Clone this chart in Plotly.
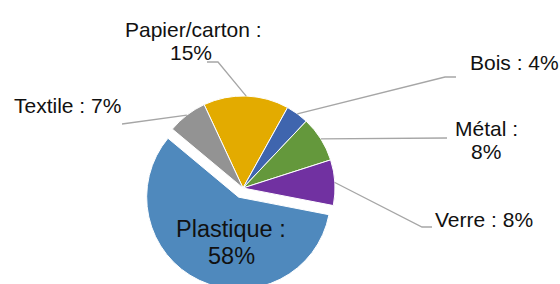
import math
import plotly.graph_objects as go

# ---- data ----
categories = ["Papier/carton", "Bois", "Métal", "Verre", "Plastique", "Textile"]
values = [15, 4, 8, 8, 58, 7]
colors = ["#E3AB00", "#3F65AE", "#64983C", "#7131A1", "#4F89BD", "#939393"]
pulls = [0, 0, 0, 0, 0.11, 0]
two_line = {"Papier/carton": True, "Bois": False, "Métal": True,
            "Verre": False, "Plastique": True, "Textile": False}

# ---- layout geometry (pixels) ----
W, H = 560, 300          # drawn a bit taller; the window shows the top 284 px
cx, cy = 243, 188
r = 92
max_pull = max(pulls)
half = r * (1 + max_pull)
rotation = -25

# label line centres (px) and leader paths (label side, px)
label_pos = {
    "Papier/carton": [(193, 30), (191, 52)],
    "Bois": [(514, 62)],
    "Métal": [(486, 128), (486, 151)],
    "Verre": [(484, 219)],
    "Plastique": [(231, 229), (231, 256)],
    "Textile": [(67, 106)],
}
leader_side = {
    "Papier/carton": [(218, 62), (207, 62)],
    "Bois": [(445, 77), (456, 77)],
    "Métal": [(447, 138)],
    "Verre": [(422, 227), (432, 227)],
    "Textile": [(122, 124)],
}


def px(x):
    return x / W


def py(y):
    return 1 - y / H


fig = go.Figure(go.Pie(
    labels=categories, values=values, sort=False, direction="clockwise",
    rotation=rotation, pull=pulls, textinfo="none", hoverinfo="skip",
    marker=dict(colors=colors, line=dict(color="white", width=1)),
    domain=dict(x=[px(cx - half), px(cx + half)], y=[py(cy + half), py(cy - half)]),
    showlegend=False,
))

total = sum(values)
annotations = []
shapes = []
acc = 0
for cat, v in zip(categories, values):
    mid = rotation + (acc + v / 2) / total * 360
    acc += v
    if two_line[cat]:
        lines = [f"{cat} :", f"{v}%"]
    else:
        lines = [f"{cat} : {v}%"]
    size = 23.5 if cat == "Plastique" else 21
    for txt, (lx, ly) in zip(lines, label_pos[cat]):
        annotations.append(dict(
            x=px(lx), y=py(ly), xref="paper", yref="paper", text=txt,
            showarrow=False, xanchor="center", yanchor="middle",
            font=dict(family="Liberation Sans, Arial", size=size, color="#111111"),
        ))
    if cat in leader_side:
        t = math.radians(mid)
        ex, ey = cx + r * math.sin(t), cy - r * math.cos(t)
        pts = [(ex, ey)] + leader_side[cat]
        path = "M " + " L ".join(f"{px(a):.5f},{py(b):.5f}" for a, b in pts)
        shapes.append(dict(type="path", xref="paper", yref="paper", path=path,
                           line=dict(color="#A6A6A6", width=1.3)))

fig.update_layout(
    width=W, height=H, margin=dict(l=0, r=0, t=0, b=0),
    paper_bgcolor="white", plot_bgcolor="white",
    annotations=annotations, shapes=shapes,
)
fig.write_html("out.html", config={"displayModeBar": False},
               post_script="document.body.style.margin='0';document.body.style.overflow='hidden';")
